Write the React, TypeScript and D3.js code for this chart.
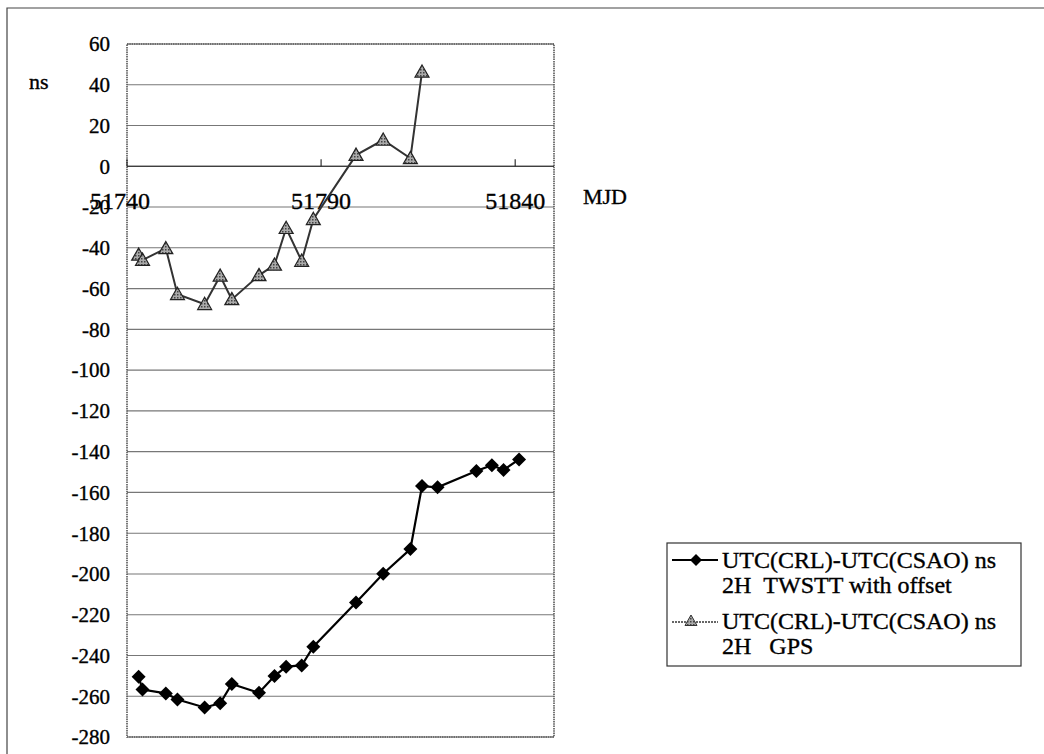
import React from 'react';
import * as d3 from 'd3';

// MJD values and series
const mjdTwstt = [51743, 51744, 51750, 51753, 51760, 51764, 51767, 51774, 51778, 51781, 51785, 51788, 51799, 51806, 51813, 51816, 51820, 51830, 51834, 51837, 51841];
const twstt = [-250.5, -256.7, -258.6, -261.6, -265.5, -263.5, -254.0, -258.3, -250.1, -245.5, -244.9, -235.7, -214.0, -199.9, -187.8, -156.9, -157.5, -149.5, -146.7, -149.0, -143.8];

const mjdGps = [51743, 51744, 51750, 51753, 51760, 51764, 51767, 51774, 51778, 51781, 51785, 51788, 51799, 51806, 51813, 51816];
const gps = [-43.5, -46.0, -40.3, -62.8, -67.7, -53.8, -65.3, -53.5, -48.4, -30.4, -46.5, -26.0, 5.5, 12.9, 3.9, 46.3];

const yTicks = [60, 40, 20, 0, -20, -40, -60, -80, -100, -120, -140, -160, -180, -200, -220, -240, -260, -280];
const xTicks = [51740, 51790, 51840];

const legendLines = [
  ['UTC(CRL)-UTC(CSAO) ns', '2H\u00a0\u00a0TWSTT with offset'],
  ['UTC(CRL)-UTC(CSAO) ns', '2H\u00a0\u00a0\u00a0GPS'],
];

const W = 1044;
const H = 754;
const plot = { left: 127, right: 554, top: 44, bottom: 737 };
const font = "'Liberation Serif', 'Times New Roman', 'DejaVu Serif', serif";

const diamond = (cx: number, cy: number, r = 7) =>
  `M${cx},${cy - r}L${cx + r},${cy}L${cx},${cy + r}L${cx - r},${cy}Z`;
const triangle = (cx: number, cy: number, r = 7) =>
  `M${cx},${cy - r}L${cx + r},${cy + r * 0.75}L${cx - r},${cy + r * 0.75}Z`;

export default function App() {
  const x = d3.scaleLinear().domain([51740, 51850]).range([plot.left, plot.right]);
  const y = d3.scaleLinear().domain([-280, 60]).range([plot.bottom, plot.top]);

  const line = d3.line<[number, number]>()
    .x((d) => x(d[0]))
    .y((d) => y(d[1]));

  const twPts: [number, number][] = mjdTwstt.map((m, i) => [m, twstt[i]]);
  const gpsPts: [number, number][] = mjdGps.map((m, i) => [m, gps[i]]);
  const y0 = y(0);
  // scanned text looks heavy, so a thin stroke thickens it a bit
  const ts = { fontFamily: font, stroke: '#000', strokeWidth: 0.35 };

  return (
    <svg
      width={W}
      height={H}
      style={{ position: 'absolute', left: 0, top: 0, background: '#fff', fontFamily: font }}
    >
      <defs>
        <pattern id="hatch" width="3" height="3" patternUnits="userSpaceOnUse">
          <rect width="3" height="3" fill="#aaa" />
          <rect width="1.5" height="1.5" fill="#444" />
        </pattern>
      </defs>

      {/* outer frame */}
      <path d={`M${W + 2},8H7V${H + 2}`} fill="none" stroke="#444" strokeWidth={1.2} />

      {/* gridlines */}
      {yTicks.map((t) => (
        <line key={t} x1={plot.left} x2={plot.right} y1={y(t)} y2={y(t)} stroke="#777" strokeWidth={1.1} />
      ))}

      {/* plot area border */}
      <rect
        x={plot.left}
        y={plot.top}
        width={plot.right - plot.left}
        height={plot.bottom - plot.top}
        fill="none"
        stroke="#555"
        strokeWidth={1.6}
        strokeDasharray="1.5 0.8"
      />

      {/* x axis at 0 */}
      <line x1={plot.left} x2={plot.right} y1={y0} y2={y0} stroke="#222" strokeWidth={1.1} />
      {xTicks.map((t, i) => (
        <g key={t}>
          <line x1={x(t)} x2={x(t)} y1={y0} y2={y0 - 7} stroke="#222" strokeWidth={1.1} />
          <text x={x(t) + (i === 0 ? -7 : 0)} y={y0 + 43} textAnchor="middle" fontSize={24} fill="#000" style={ts}>{t}</text>
        </g>
      ))}

      {/* y tick labels */}
      {yTicks.map((t) => (
        <text key={t} x={110} y={y(t)} dy="0.35em" textAnchor="end" fontSize={21} fill="#000" style={ts}>{t}</text>
      ))}

      <text x={29} y={89} fontSize={22} fill="#000" style={ts}>ns</text>
      <text x={583} y={204} fontSize={22} fill="#000" style={ts}>MJD</text>

      {/* GPS series */}
      <path d={line(gpsPts) || ''} fill="none" stroke="#333" strokeWidth={2} />
      {gpsPts.map((d, i) => (
        <path key={i} d={triangle(x(d[0]), y(d[1]))} fill="url(#hatch)" stroke="#222" strokeWidth={1.2} />
      ))}

      {/* TWSTT series */}
      <path d={line(twPts) || ''} fill="none" stroke="#000" strokeWidth={2.2} />
      {twPts.map((d, i) => (
        <path key={i} d={diamond(x(d[0]), y(d[1]))} fill="#000" />
      ))}

      {/* legend */}
      <rect x={667} y={543} width={354} height={123} fill="#fff" stroke="#333" strokeWidth={1.2} />
      <line x1={672} x2={718} y1={560} y2={560} stroke="#000" strokeWidth={2} />
      <path d={diamond(696, 560, 6)} fill="#000" />
      <line x1={672} x2={718} y1={622} y2={622} stroke="#666" strokeWidth={2} strokeDasharray="2 1" />
      <path d={triangle(691, 621, 6)} fill="url(#hatch)" stroke="#333" strokeWidth={1} />
      {legendLines.map((ls, i) => (
        <g key={i}>
          <text x={722} y={568 + i * 61} fontSize={24} fill="#000" style={ts}>{ls[0]}</text>
          <text x={722} y={593 + i * 61} fontSize={24} fill="#000" style={ts}>{ls[1]}</text>
        </g>
      ))}
    </svg>
  );
}
